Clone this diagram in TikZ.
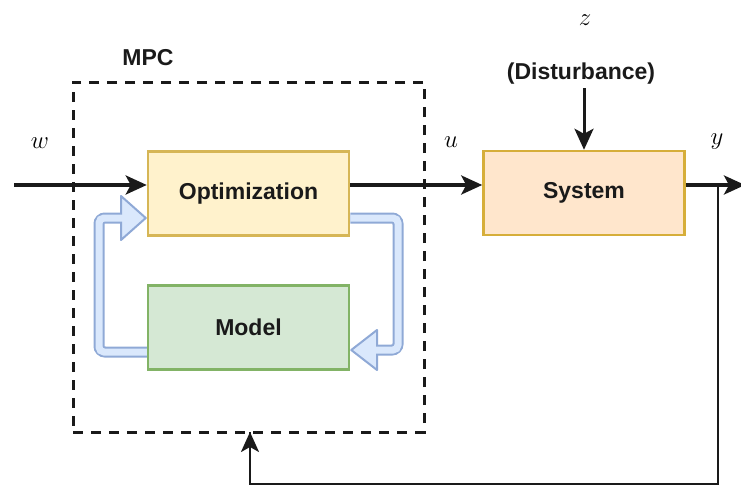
\documentclass[tikz,border=0pt]{standalone}
\usepackage{fontspec}
\newfontfamily\labfont{Liberation Sans}
\usetikzlibrary{arrows.meta,calc}
\definecolor{optfill}{HTML}{FFF2CC}
\definecolor{optdraw}{HTML}{D6B656}
\definecolor{modfill}{HTML}{D5E8D4}
\definecolor{moddraw}{HTML}{82B366}
\definecolor{sysfill}{HTML}{FFE6CC}
\definecolor{sysdraw}{HTML}{D6AE3A}
\definecolor{flexfill}{HTML}{DAE8FC}
\definecolor{flexdraw}{HTML}{8FA9D6}
\definecolor{ink}{HTML}{1A1A1A}
\begin{document}
\begin{tikzpicture}[x=1pt,y=-1pt,
  blockbox/.style={draw,line width=2.5pt,minimum width=201pt,minimum height=84pt,
    text=ink,font=\labfont\bfseries\fontsize{23}{27}\selectfont},
  lbl/.style={text=ink,font=\labfont\bfseries\fontsize{23}{27}\selectfont},
  mathlbl/.style={font=\fontsize{24.88}{29}\selectfont},
  sig/.style={line width=3.5pt,draw=ink,-{Stealth[length=21pt,width=19pt,inset=5pt]}},
  fb/.style={line width=2.5pt,draw=ink},
  flexouter/.style={line width=11pt,draw=flexdraw,rounded corners=6pt},
  flexinner/.style={line width=7pt,draw=flexfill,rounded corners=5pt},
  flexhead/.style={fill=flexfill,draw=flexdraw,line width=2pt,line join=round}
]
\useasboundingbox (0,0) rectangle (741,487);

% nodes
\node[blockbox,fill=optfill,draw=optdraw] (opt) at (248.5,193.5) {Optimization};
\node[blockbox,fill=modfill,draw=moddraw] (mod) at (248.5,327.5) {Model};
\node[blockbox,fill=sysfill,draw=sysdraw] (sys) at (584,193) {System};
\node[draw=ink,dash pattern=on 10pt off 8pt,line width=3pt,
      minimum width=351pt,minimum height=350pt] (mpc) at (248.5,257) {};
\node[lbl] (mpclbl) at (148,58) {MPC};
\node[lbl] (dist) at (581,74) {(Disturbance)};
\node[mathlbl] (zl) at (585,20) {$z$};
\node[mathlbl] (wl) at (40,143) {$w$};
\node[mathlbl] (ul) at (451,142) {$u$};
\node[mathlbl] (yl) at (717,142) {$y$};

\coordinate (win) at (14,185);
\coordinate (yout) at (745,185);
\coordinate (ytap) at (718,185);
\coordinate (fbc1) at (718,484);
\coordinate (fbc2) at (250,484);
\coordinate (fbend) at (250,432);

% blue flex arrow: optimization -> model (right)
\coordinate (r1) at ($(opt.east)+(0,24.5)$);
\coordinate (r2) at (398,218);
\coordinate (r3) at (398,350);
\coordinate (rb) at (377,350);
\coordinate (rt) at ($(mod.east)+(1,22.5)$);
\draw[flexouter] (r1) -- (r2) -- (r3) -- (rb);
\draw[flexhead] (rb) ++(0,-20) -- (rt) -- ($(rb)+(0,20)$) -- cycle;
\draw[flexinner] (r1) -- (r2) -- (r3) -- ($(rb)+(-2,0)$);

% blue flex arrow: model -> optimization (left)
\coordinate (l1) at ($(mod.west)+(0,24.5)$);
\coordinate (l2) at (99,352);
\coordinate (l3) at (99,218);
\coordinate (lb) at (121,218);
\coordinate (lt) at ($(opt.west)+(-1,24.5)$);
\draw[flexouter] (l1) -- (l2) -- (l3) -- (lb);
\draw[flexhead] (lb) ++(0,-22) -- (lt) -- ($(lb)+(0,22)$) -- cycle;
\draw[flexinner] (l1) -- (l2) -- (l3) -- ($(lb)+(2,0)$);

% redraw boxes on top of arrow starts
\node[blockbox,fill=optfill,draw=optdraw] at (opt) {Optimization};
\node[blockbox,fill=modfill,draw=moddraw] at (mod) {Model};

% signals
\draw[sig] (win) -- (opt.west |- win);
\draw[sig] (opt.east |- win) -- (sys.west |- win);
\draw[sig] (sys.east |- yout) -- (yout);
\draw[sig,line width=3pt] (dist.south -| sys.north) -- (sys.north);
\draw[fb] (ytap) -- (fbc1) -- (fbc2) -- (fbc2 |- fbend);
\draw[fb,-{Stealth[length=20pt,width=18pt,inset=5pt]}] ($(fbc2)+(0,-1)$) -- (fbend);
\end{tikzpicture}
\end{document}
